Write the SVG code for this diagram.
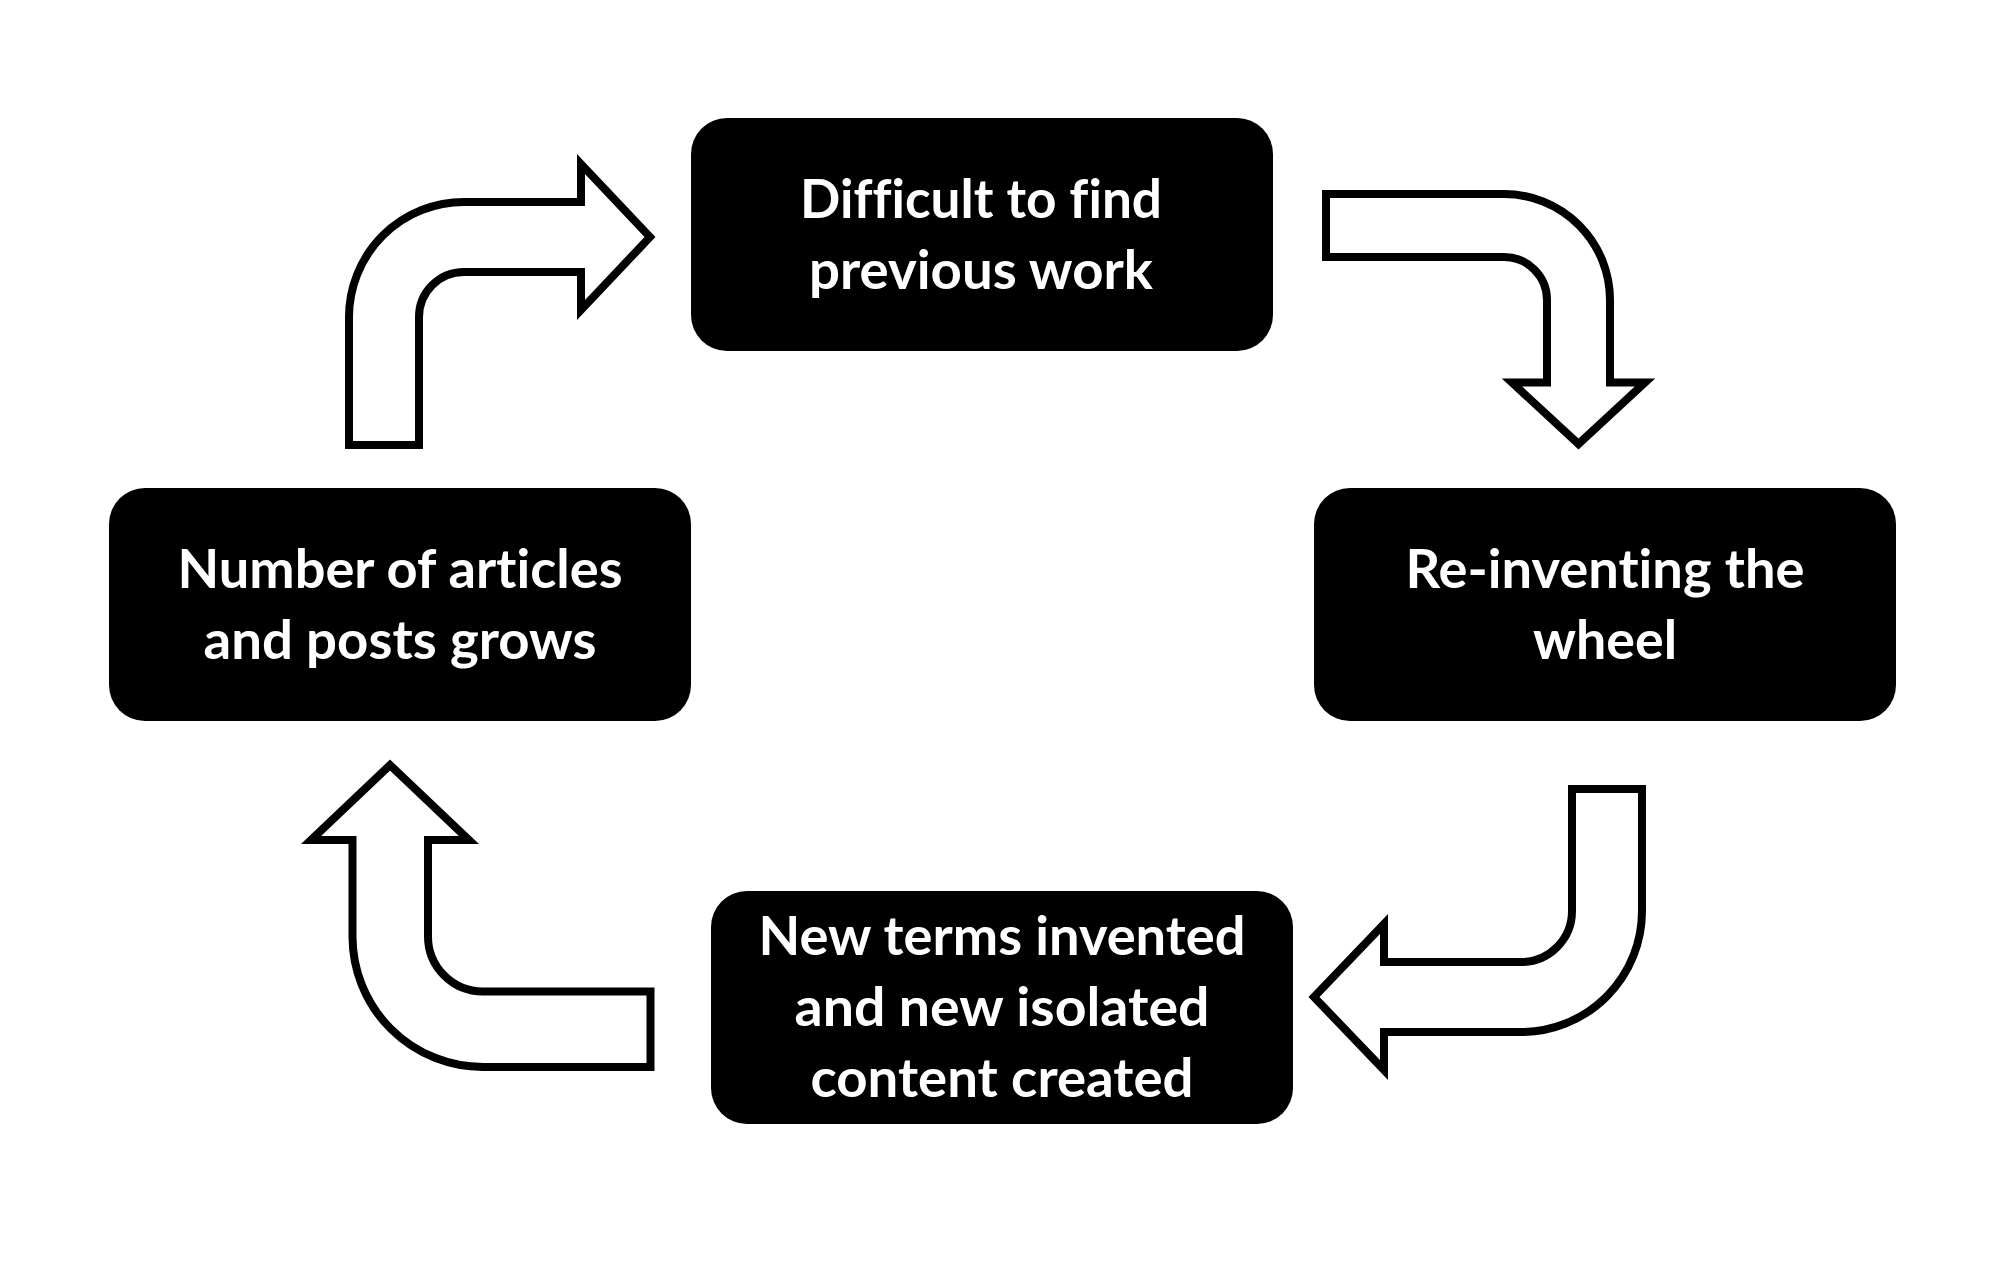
<svg xmlns="http://www.w3.org/2000/svg" width="2000" height="1261" viewBox="0 0 2000 1261">
<style>
.box{fill:#000}
.lbl{fill:#fff;font-family:Lato,"Open Sans","Liberation Sans",sans-serif;font-weight:bold;font-size:54px;text-anchor:middle;font-variant-ligatures:none}
.arr{fill:#fff;stroke:#000;stroke-width:8;stroke-linejoin:miter;stroke-miterlimit:10}
</style>
<rect width="2000" height="1261" fill="#fff"/>
<g id="connectors">
<path class="arr" d="M349,445 L349,317 A115,115 0 0 1 464,202 L581,202 L581,164 L650,237 L581,310 L581,272 L464,272 A45,45 0 0 0 419,317 L419,445 Z"/>
<path class="arr" d="M1326,194 L1504,194 A106,106 0 0 1 1610,300 L1610,382.5 L1645,382.5 L1578.5,444 L1512,382.5 L1547,382.5 L1547,300 A43,43 0 0 0 1504,257 L1326,257 Z"/>
<path class="arr" d="M1572,789 L1642,789 L1642,911 A121,121 0 0 1 1521,1032 L1384,1032 L1384,1070 L1314,997 L1384,924 L1384,962 L1521,962 A51,51 0 0 0 1572,911 Z"/>
<path class="arr" d="M650.5,1067 L483,1067 A130.5,130.5 0 0 1 352.5,936.5 L352.5,840 L311,840 L390,765 L469,840 L428,840 L428,936.5 A55,55 0 0 0 483,991.5 L650.5,991.5 Z"/>
</g>
<g id="node-difficult">
<rect class="box" x="691" y="118" width="582" height="233" rx="36"/>
<text class="lbl" x="981" y="218" textLength="362" lengthAdjust="spacingAndGlyphs">Difficult to find</text>
<text class="lbl" x="981" y="289" textLength="344" lengthAdjust="spacingAndGlyphs">previous work</text>
</g>
<g id="node-reinventing">
<rect class="box" x="1314" y="488" width="582" height="233" rx="36"/>
<text class="lbl" x="1605" y="588" textLength="399" lengthAdjust="spacingAndGlyphs">Re-inventing the</text>
<text class="lbl" x="1605" y="659" textLength="144" lengthAdjust="spacingAndGlyphs">wheel</text>
</g>
<g id="node-newterms">
<rect class="box" x="711" y="891" width="582" height="233" rx="36"/>
<text class="lbl" x="1002" y="955" textLength="487" lengthAdjust="spacingAndGlyphs">New terms invented</text>
<text class="lbl" x="1002" y="1026" textLength="415" lengthAdjust="spacingAndGlyphs">and new isolated</text>
<text class="lbl" x="1002" y="1097" textLength="383" lengthAdjust="spacingAndGlyphs">content created</text>
</g>
<g id="node-number">
<rect class="box" x="109" y="488" width="582" height="233" rx="36"/>
<text class="lbl" x="400" y="588" textLength="445" lengthAdjust="spacingAndGlyphs">Number of articles</text>
<text class="lbl" x="400" y="659" textLength="393" lengthAdjust="spacingAndGlyphs">and posts grows</text>
</g>
</svg>
